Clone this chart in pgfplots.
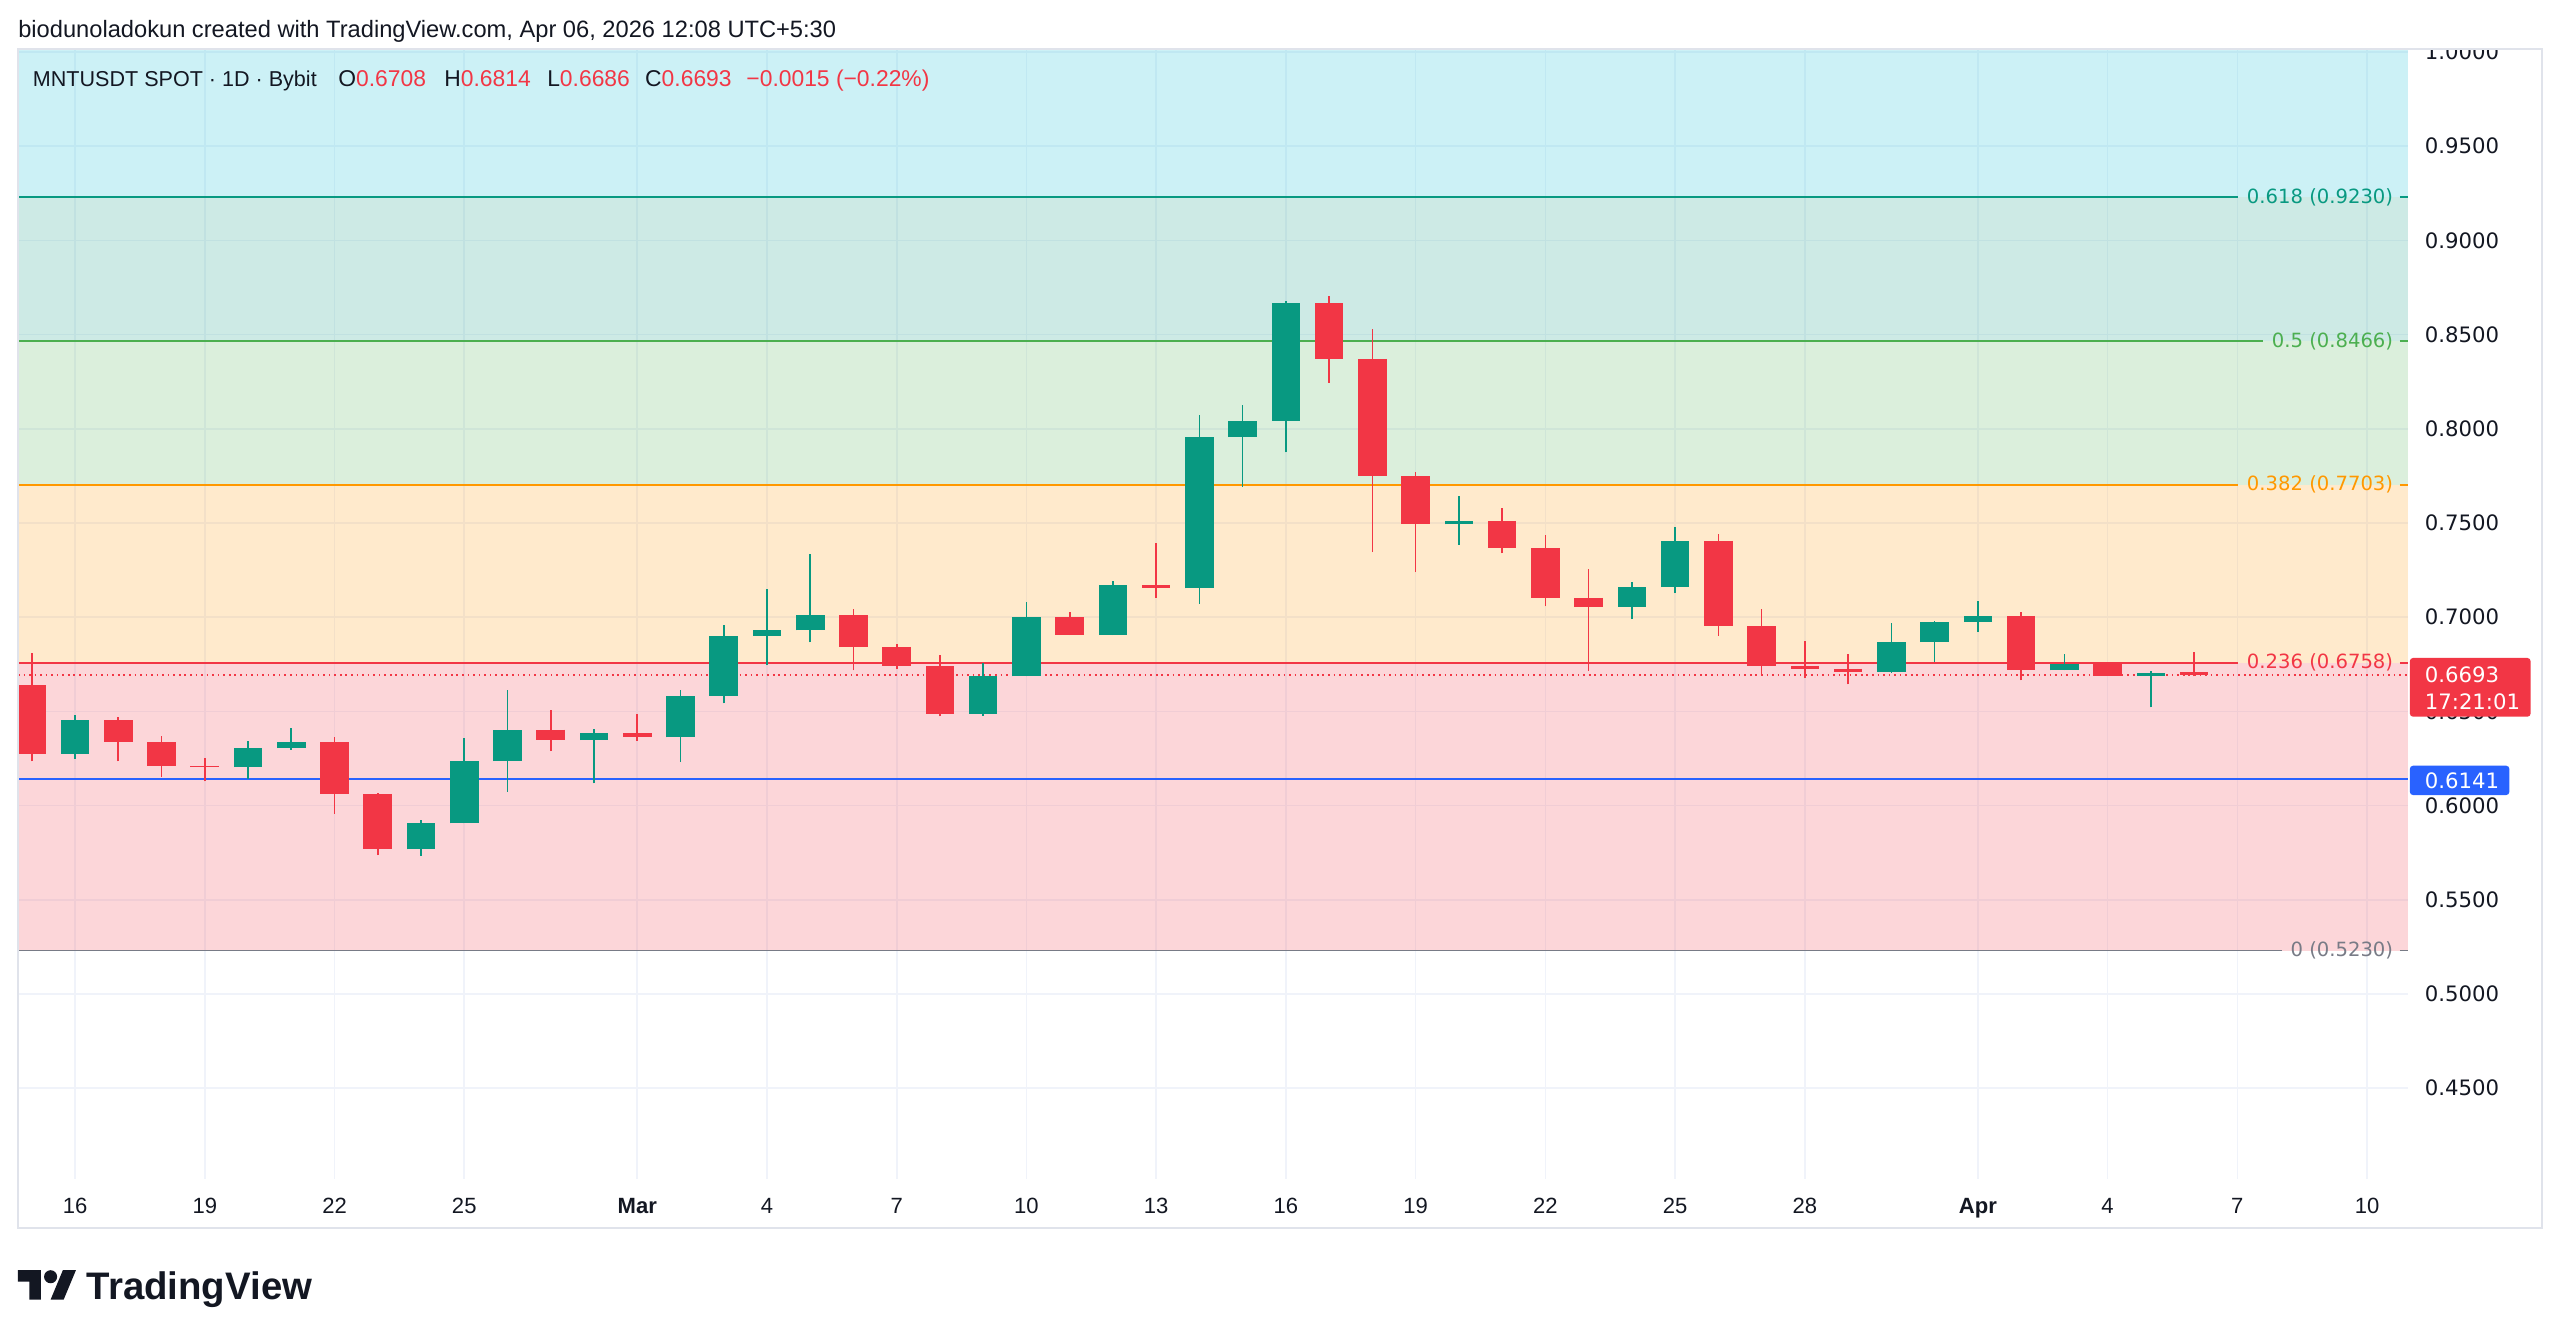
\documentclass[border=0pt]{standalone}
\usepackage{fontspec}
\setmainfont{Liberation Sans}
\newfontfamily\dejavu{DejaVu Sans}
\usepackage{pgfplots}
\usepackage{pgfplotstable}
\pgfplotsset{compat=1.18}

\definecolor{tvtext}{HTML}{131722}
\definecolor{tvgreen}{HTML}{089981}
\definecolor{tvred}{HTML}{F23645}
\definecolor{fibgreen}{HTML}{4CAF50}
\definecolor{fiborange}{HTML}{FF9800}
\definecolor{fibcyan}{HTML}{00BCD4}
\definecolor{fibgray}{HTML}{787B86}
\definecolor{tvblue}{HTML}{2962FF}
\definecolor{gridc}{HTML}{F0F3FA}
\definecolor{framec}{HTML}{E0E3EB}

% MNTUSDT daily candles (day 0 = 15 Feb 2026): open, high, low, close
\pgfplotstableread{
d o h l c
1 0.6275 0.6479 0.6248 0.6454
5 0.6204 0.6341 0.6141 0.6305
6 0.6305 0.6410 0.6296 0.6336
9 0.5768 0.5923 0.5733 0.5906
10 0.5906 0.6361 0.5906 0.6236
11 0.6236 0.6614 0.6074 0.6403
13 0.6347 0.6408 0.6118 0.6385
15 0.6362 0.6613 0.6231 0.6582
16 0.6582 0.6961 0.6542 0.6901
17 0.6901 0.7147 0.6746 0.6930
18 0.6930 0.7334 0.6866 0.7009
22 0.6488 0.6756 0.6477 0.6686
23 0.6686 0.7080 0.6686 0.7000
25 0.6905 0.7193 0.6905 0.7171
27 0.7153 0.8074 0.7071 0.7956
28 0.7956 0.8124 0.7693 0.8043
29 0.8043 0.8676 0.7875 0.8666
33 0.7493 0.7645 0.7384 0.7511
37 0.7055 0.7184 0.6989 0.7159
38 0.7159 0.7479 0.7127 0.7405
43 0.6710 0.6968 0.6705 0.6868
44 0.6868 0.6982 0.6763 0.6973
45 0.6973 0.7086 0.6923 0.7007
47 0.6717 0.6806 0.6717 0.6754
49 0.6689 0.6713 0.6521 0.6702
}\upT

\pgfplotstableread{
d o h l c
0 0.6638 0.6809 0.6234 0.6275
2 0.6454 0.6471 0.6234 0.6335
3 0.6335 0.6371 0.6153 0.6210
4 0.6210 0.6252 0.6129 0.6204
7 0.6336 0.6366 0.5956 0.6062
8 0.6062 0.6069 0.5737 0.5768
12 0.6403 0.6507 0.6289 0.6347
14 0.6385 0.6487 0.6343 0.6362
19 0.7009 0.7044 0.6717 0.6842
20 0.6842 0.6859 0.6723 0.6740
21 0.6740 0.6800 0.6473 0.6488
24 0.7000 0.7030 0.6905 0.6905
26 0.7171 0.7392 0.7104 0.7153
30 0.8666 0.8703 0.8245 0.8371
31 0.8371 0.8530 0.7345 0.7749
32 0.7749 0.7772 0.7239 0.7493
34 0.7511 0.7580 0.7339 0.7367
35 0.7367 0.7438 0.7057 0.7103
36 0.7103 0.7253 0.6716 0.7055
39 0.7405 0.7440 0.6901 0.6953
40 0.6953 0.7041 0.6691 0.6742
41 0.6742 0.6875 0.6677 0.6727
42 0.6727 0.6802 0.6643 0.6710
46 0.7007 0.7026 0.6664 0.6717
48 0.6754 0.6754 0.6688 0.6689
50 0.6708 0.6814 0.6686 0.6693
}\downT

\def\xa{-0.32}
\def\xb{54.95}

\begin{document}
\begin{tikzpicture}
\path[use as bounding box] (0pt,0pt) rectangle (1568pt,821pt);
\fill[white] (0pt,0pt) rectangle (1568pt,821pt);

\begin{axis}[
  at={(11pt,99pt)}, anchor=south west,
  scale only axis, width=1464pt, height=692pt,
  xmin=\xa, xmax=\xb, ymin=0.4019, ymax=1.0016,
  axis line style={draw=none},
  major tick length=0pt,
  grid=major,
  major grid style={draw=gridc, line width=1pt},
  xtick={1,4,7,10,14,17,20,23,26,29,32,35,38,41,45,48,51,54},
  xticklabels={16,19,22,25,\textbf{Mar},4,7,10,13,16,19,22,25,28,\textbf{Apr},4,7,10},
  xticklabel style={font=\fontsize{13.5}{16}\selectfont, text=tvtext, anchor=base, inner sep=0pt, yshift=-21pt},
  ytick={0.45,0.5,0.55,0.6,0.65,0.7,0.75,0.8,0.85,0.9,0.95,1.0},
  yticklabel pos=right,
  yticklabel style={font=\dejavu\fontsize{13}{16}\selectfont, text=tvtext, anchor=west, inner sep=0pt, xshift=10pt},
  /pgf/number format/fixed,
  /pgf/number format/fixed zerofill,
  /pgf/number format/precision=4,
  /pgf/number format/assume math mode=true,
]

% Fibonacci retracement zones
\fill[tvred, fill opacity=0.2] (axis cs:\xa,0.5230) rectangle (axis cs:\xb,0.6758);
\fill[fiborange, fill opacity=0.2] (axis cs:\xa,0.6758) rectangle (axis cs:\xb,0.7703);
\fill[fibgreen, fill opacity=0.2] (axis cs:\xa,0.7703) rectangle (axis cs:\xb,0.8466);
\fill[tvgreen, fill opacity=0.2] (axis cs:\xa,0.8466) rectangle (axis cs:\xb,0.9230);
\fill[fibcyan, fill opacity=0.2] (axis cs:\xa,0.9230) rectangle (axis cs:\xb,1.0016);

% level labels and lines
\begin{scope}[every node/.style={anchor=east, inner sep=0pt, font=\dejavu\fontsize{12}{14}\selectfont}]
\node[text=tvgreen] (f618) at ([xshift=-9pt]axis cs:\xb,0.9230) {0.618 (0.9230)};
\node[text=fibgreen] (f500) at ([xshift=-9pt]axis cs:\xb,0.8466) {0.5 (0.8466)};
\node[text=fiborange] (f382) at ([xshift=-9pt]axis cs:\xb,0.7703) {0.382 (0.7703)};
\node[text=tvred] (f236) at ([xshift=-9pt]axis cs:\xb,0.6758) {0.236 (0.6758)};
\node[text=fibgray] (f000) at ([xshift=-9pt]axis cs:\xb,0.5230) {0 (0.5230)};
\end{scope}
\draw[tvgreen, line width=1pt] (axis cs:\xa,0.9230) -- ([xshift=-5pt]f618.west) ([xshift=4pt]f618.east) -- (axis cs:\xb,0.9230);
\draw[fibgreen, line width=1pt] (axis cs:\xa,0.8466) -- ([xshift=-5pt]f500.west) ([xshift=4pt]f500.east) -- (axis cs:\xb,0.8466);
\draw[fiborange, line width=1pt] (axis cs:\xa,0.7703) -- ([xshift=-5pt]f382.west) ([xshift=4pt]f382.east) -- (axis cs:\xb,0.7703);
\draw[tvred, line width=1pt] (axis cs:\xa,0.6758) -- ([xshift=-5pt]f236.west) ([xshift=4pt]f236.east) -- (axis cs:\xb,0.6758);
\draw[fibgray, line width=1pt] (axis cs:\xa,0.5230) -- ([xshift=-5pt]f000.west) ([xshift=4pt]f000.east) -- (axis cs:\xb,0.5230);

% horizontal support line and last price line
\draw[tvblue, line width=1.1pt] (axis cs:\xa,0.6141) -- (axis cs:\xb,0.6141);
\draw[tvred, line width=1pt, dash pattern=on 1pt off 2.4pt] (axis cs:\xa,0.6693) -- (axis cs:\xb,0.6693);

% wicks
\addplot[draw=tvgreen, line width=1pt, quiver={u=0, v=\thisrow{h}-\thisrow{l}}] table[x=d, y=l] {\upT};
\addplot[draw=tvred, line width=1pt, quiver={u=0, v=\thisrow{h}-\thisrow{l}}] table[x=d, y=l] {\downT};
% bodies
\addplot[draw=tvgreen, line width=17.5pt, quiver={u=0, v=\thisrow{c}-\thisrow{o}}] table[x=d, y=o] {\upT};
\addplot[draw=tvred, line width=17.5pt, quiver={u=0, v=\thisrow{c}-\thisrow{o}}] table[x=d, y=o] {\downT};
\end{axis}

% price scale top edge and chart frame
\fill[white] (1476pt,791pt) rectangle (1567pt,810pt);
\draw[framec, line width=1pt] (11pt,69pt) rectangle (1557pt,791pt);

% price tags on the scale
\fill[tvred, rounded corners=2pt] (1476pt,382pt) rectangle (1550pt,418pt);
\node[anchor=west, inner sep=0pt, text=white, font=\dejavu\fontsize{13}{16}\selectfont] at (1485pt,408pt) {0.6693};
\node[anchor=west, inner sep=0pt, text=white, font=\dejavu\fontsize{13}{16}\selectfont] at (1485pt,391pt) {17:21:01};
\fill[tvblue, rounded corners=2pt] (1476pt,334pt) rectangle (1537pt,352pt);
\node[anchor=west, inner sep=0pt, text=white, font=\dejavu\fontsize{13}{16}\selectfont] at (1485pt,343pt) {0.6141};

% header
\node[anchor=base west, inner sep=0pt, text=tvtext, font=\fontsize{14.5}{17}\selectfont] at (11pt,798pt) {biodunoladokun created with TradingView.com, Apr 06, 2026 12:08 UTC+5:30};
\begin{scope}[every node/.style={anchor=base west, inner sep=0pt, text=tvtext, font=\fontsize{14}{17}\selectfont}]
\node[font=\fontsize{13.2}{16}\selectfont] at (20pt,768pt) {MNTUSDT SPOT · 1D · Bybit};
\node at (207pt,768pt) {O\textcolor{tvred}{0.6708}};
\node at (272pt,768pt) {H\textcolor{tvred}{0.6814}};
\node at (335pt,768pt) {L\textcolor{tvred}{0.6686}};
\node at (395pt,768pt) {C\textcolor{tvred}{0.6693}};
\node[text=tvred] at (457pt,768pt) {−0.0015 (−0.22\%)};
\end{scope}

% logo
\fill[tvtext] (11pt,43pt) -- (25pt,43pt) -- (25pt,25pt) -- (18pt,25pt) -- (18pt,36pt) -- (11pt,36pt) -- cycle;
\fill[tvtext] (31pt,39pt) circle[radius=4pt];
\fill[tvtext] (31pt,25pt) -- (39pt,25pt) -- (46.5pt,43pt) -- (38.5pt,43pt) -- cycle;
\node[anchor=base west, inner sep=0pt, text=tvtext, font=\bfseries\fontsize{23.5}{28}\selectfont] at (53pt,25pt) {TradingView};
\end{tikzpicture}
\end{document}
